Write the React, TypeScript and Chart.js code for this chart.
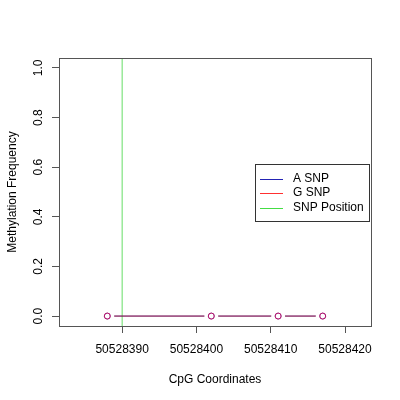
import { useEffect, useRef } from "react";
import { Chart, registerables, type Plugin } from "chart.js";

Chart.register(...registerables);

// CpG sites and their methylation values
const positions = [50528388, 50528402, 50528411, 50528417];
const aSnp = [0, 0, 0, 0];
const gSnp = [0, 0, 0, 0];
const snpPosition = 50528390;

const xTicks = [50528390, 50528400, 50528410, 50528420];
const yTicks = [0, 0.2, 0.4, 0.6, 0.8, 1.0];
const xRange = [50528381.5, 50528423.5];
const yRange = [-0.04, 1.04];

const legendItems = [
  { label: "A SNP", color: "#2323b4" },
  { label: "G SNP", color: "#ff3030" },
  { label: "SNP Position", color: "#44dd44" },
];

const FONT = "'Liberation Sans', Arial, sans-serif";
const AXIS = "#555555";

const frame: Plugin = {
  id: "frame",
  afterDraw(chart) {
    const { ctx, chartArea: a } = chart;
    ctx.save();
    ctx.strokeStyle = AXIS;
    ctx.lineWidth = 1;
    ctx.strokeRect(Math.round(a.left) + 0.5, Math.round(a.top) + 0.5, Math.round(a.right - a.left), Math.round(a.bottom - a.top));
    ctx.restore();
  },
};

const boxLegend: Plugin = {
  id: "boxLegend",
  afterDraw(chart) {
    const { ctx, chartArea: a } = chart;
    const left = a.right - 116;
    const top = 164;
    ctx.save();
    ctx.fillStyle = "#fff";
    ctx.fillRect(left, top, 114, 57);
    ctx.strokeStyle = "#333";
    ctx.lineWidth = 1;
    ctx.strokeRect(left + 0.5, top + 0.5, 114, 57);
    ctx.font = `12px ${FONT}`;
    ctx.textBaseline = "middle";
    legendItems.forEach((it, i) => {
      const y = top + 14.5 + i * 14.5;
      ctx.strokeStyle = it.color;
      ctx.lineWidth = 1;
      ctx.beginPath();
      ctx.moveTo(left + 5, Math.round(y) + 0.5);
      ctx.lineTo(left + 28, Math.round(y) + 0.5);
      ctx.stroke();
      ctx.fillStyle = "#000";
      ctx.fillText(it.label, left + 38, y);
    });
    ctx.restore();
  },
};

export default function App() {
  const ref = useRef<HTMLCanvasElement | null>(null);
  const chartRef = useRef<Chart | null>(null);

  useEffect(() => {
    if (!ref.current) return;
    chartRef.current?.destroy();
    const pts = (vals: number[]) => positions.map((x, i) => ({ x, y: vals[i] }));
    chartRef.current = new Chart(ref.current, {
      type: "scatter",
      data: {
        datasets: [
          // hollow circles
          { label: "G SNP pts", data: pts(gSnp), order: 0, showLine: false, pointRadius: 3, pointBorderWidth: 1, pointBorderColor: "rgba(255,0,80,0.55)", pointBackgroundColor: "rgba(0,0,0,0)" },
          { label: "A SNP pts", data: pts(aSnp), order: 1, showLine: false, pointRadius: 3, pointBorderWidth: 1, pointBorderColor: "#5a2a8f", pointBackgroundColor: "rgba(0,0,0,0)" },
          // white masks give the gaps of a type "b" line
          { label: "mask", data: pts(aSnp), order: 2, showLine: false, pointRadius: 7, pointBorderWidth: 0, pointBorderColor: "#fff", pointBackgroundColor: "#fff" },
          { label: "G SNP", data: pts(gSnp), order: 3, showLine: true, pointRadius: 0, borderWidth: 1, borderColor: "rgba(255,0,0,0.5)" },
          { label: "A SNP", data: pts(aSnp), order: 4, showLine: true, pointRadius: 0, borderWidth: 1, borderColor: "#1f1f8f" },
          { label: "SNP Position", data: [{ x: snpPosition, y: yRange[0] }, { x: snpPosition, y: yRange[1] }], order: 5, showLine: true, pointRadius: 0, borderWidth: 1, borderColor: "#66dd66" },
        ],
      },
      options: {
        animation: false,
        responsive: true,
        maintainAspectRatio: false,
        layout: { padding: { top: 58, right: 29, left: 0, bottom: 0 } },
        plugins: { legend: { display: false }, tooltip: { enabled: false } },
        scales: {
          x: {
            type: "linear",
            min: xRange[0],
            max: xRange[1],
            afterBuildTicks: (s) => { s.ticks = xTicks.map((v) => ({ value: v })); },
            afterFit: (s) => { s.height = 74; },
            grid: { drawOnChartArea: false, drawTicks: true, tickLength: 7, color: AXIS },
            border: { display: false },
            ticks: { color: "#000", padding: 9, maxRotation: 0, font: { family: FONT, size: 12 }, callback: (v) => String(v) },
            title: { display: true, text: "CpG Coordinates", color: "#000", font: { family: FONT, size: 12 }, padding: { top: 0, bottom: 13 } },
          },
          y: {
            type: "linear",
            min: yRange[0],
            max: yRange[1],
            afterBuildTicks: (s) => { s.ticks = yTicks.map((v) => ({ value: v })); },
            afterFit: (s) => { s.width = 59; },
            grid: { drawOnChartArea: false, drawTicks: true, tickLength: 7, color: AXIS },
            border: { display: false },
            ticks: { color: "#000", padding: 5, minRotation: 90, maxRotation: 90, crossAlign: "center", font: { family: FONT, size: 12 }, callback: (v) => Number(v).toFixed(1) },
            title: { display: true, text: "Methylation Frequency", color: "#000", font: { family: FONT, size: 12 }, padding: { top: 5, bottom: 0 } },
          },
        },
      },
      plugins: [frame, boxLegend],
    });
    return () => chartRef.current?.destroy();
  }, []);

  return (
    <div style={{ position: "fixed", left: 0, top: 0, width: 400, height: 400, background: "#fff" }}>
      <canvas ref={ref} />
    </div>
  );
}
